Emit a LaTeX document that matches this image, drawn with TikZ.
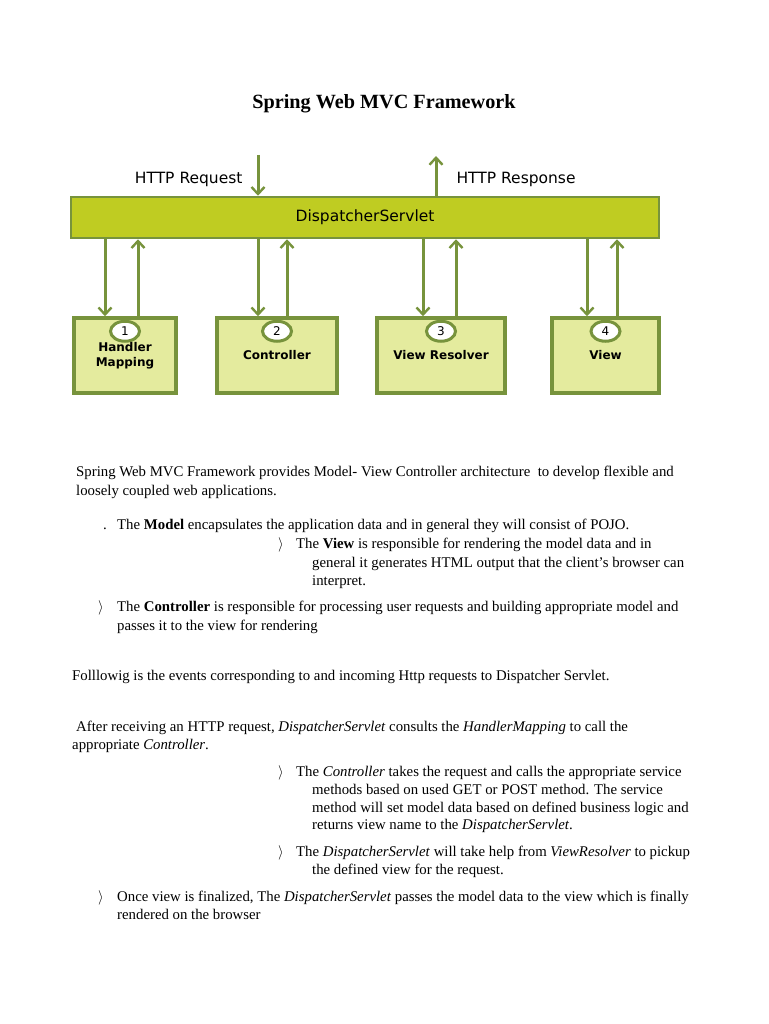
\documentclass[tikz,border=0pt]{standalone}
\usepackage{fontspec}
\setmainfont{Liberation Serif}
\newfontfamily\mvcsans{DejaVu Sans}
\usetikzlibrary{arrows.meta,shapes.geometric,positioning}
\definecolor{mvcBar}{HTML}{BFCC22}
\definecolor{mvcBox}{HTML}{E4EB9E}
\definecolor{mvcLine}{HTML}{77933C}
\begin{document}
\begin{tikzpicture}[
  x=1pt, y=-1pt,
  mvcbar/.style = {draw=mvcLine, line width=2.5pt, fill=mvcBar, minimum width=588pt,
    minimum height=41pt, font=\mvcsans\fontsize{15.5}{17}\selectfont},
  mvcbox/.style = {draw=mvcLine, line width=3.5pt, fill=mvcBox, minimum height=75pt},
  mvcnum/.style = {ellipse, draw=mvcLine, line width=3pt, fill=white, inner sep=0pt,
    minimum width=29pt, minimum height=20pt, font=\mvcsans\fontsize{12}{13}\selectfont},
  mvclbl/.style = {font=\mvcsans\bfseries\fontsize{12}{15}\selectfont, align=center},
  mvchttp/.style = {font=\mvcsans\fontsize{15.5}{17}\selectfont},
  mvcarrow/.style = {line width=3pt, mvcLine, -{Straight Barb[length=7pt,width=13pt,line width=2.4pt]}},
  mvctxt/.style = {anchor=base west, inner sep=0pt, font=\fontsize{14.8}{17}\selectfont},
  mvctitle/.style = {anchor=base, inner sep=0pt, font=\bfseries\fontsize{20.2}{23}\selectfont}
]
  \useasboundingbox (0,0) rectangle (768,1024);
  % title
  \node[mvctitle] (title) at (384,109) {Spring Web MVC Framework};
  % front controller
  \node[mvcbar] (disp) at (365,217.5) {DispatcherServlet};
  \coordinate (reqin) at (258,155);
  \coordinate (resout) at (436,156);
  \draw[mvcarrow] (reqin) -- (reqin |- disp.north);
  \draw[mvcarrow] (resout |- disp.north) -- (resout);
  \node[mvchttp, anchor=east] (req) at (246,179) {HTTP Request};
  \node[mvchttp, anchor=west] (res) at (453,179) {HTTP Response};
  % components
  \node[mvcbox, minimum width=102pt] (hm)   at (125,355.5) {};
  \node[mvcbox, minimum width=120pt] (ctrl) at (277,355.5) {};
  \node[mvcbox, minimum width=128pt] (vr)   at (441,355.5) {};
  \node[mvcbox, minimum width=107pt] (view) at (605.5,355.5) {};
  \foreach \b/\n/\lbl/\dn/\up in {hm/1/{Handler\\Mapping}/-20/13,
                                  ctrl/2/Controller/-19/10,
                                  vr/3/View Resolver/-18/15,
                                  view/4/View/-18.5/11.5} {
    \draw[mvcarrow] ([xshift=\dn pt]\b.north |- disp.south) -- ([xshift=\dn pt]\b.north);
    \draw[mvcarrow] ([xshift=\up pt]\b.north) -- ([xshift=\up pt]\b.north |- disp.south);
    \node[mvcnum] (\b-num) at ([yshift=-15pt]\b.north) {\n};
    \node[mvclbl] (\b-lbl) at ([yshift=-39pt]\b.north) {\lbl};
  }
  % text
  \node[mvctxt] (p1a) at (76,476) {Spring Web MVC Framework provides Model- View Controller architecture\ \ to develop flexible and};
  \node[mvctxt] (p1b) at (76,495) {loosely coupled web applications.};
  \node[mvctxt] (m0) at (103,529) {.};
  \node[mvctxt] (m1) at (117,529) {The \textbf{Model} encapsulates the application data and in general they will consist of POJO.};
  \node[mvctxt] (v0) at (278,548) {$\rangle$};
  \node[mvctxt] (v1) at (296,548) {The \textbf{View} is responsible for rendering the model data and in};
  \node[mvctxt] (v2) at (312,567) {general it generates HTML output that the client's browser can};
  \node[mvctxt] (v3) at (312,585) {interpret.};
  \node[mvctxt] (c0) at (98,611) {$\rangle$};
  \node[mvctxt] (c1) at (117,611) {The \textbf{Controller} is responsible for processing user requests and building appropriate model and};
  \node[mvctxt] (c2) at (117,630) {passes it to the view for rendering};
  \node[mvctxt] (f1) at (72,680) {Folllowig is the events corresponding to and incoming Http requests to Dispatcher Servlet.};
  \node[mvctxt] (a1) at (76,731) {After receiving an HTTP request, \textit{DispatcherServlet} consults the \textit{HandlerMapping} to call the};
  \node[mvctxt] (a2) at (72,749) {appropriate \textit{Controller}.};
  \node[mvctxt] (s0) at (278,776) {$\rangle$};
  \node[mvctxt] (s1) at (296,776) {The \textit{Controller} takes the request and calls the appropriate service};
  \node[mvctxt] (s2) at (312,794) {methods based on used GET or POST method. The service};
  \node[mvctxt] (s3) at (312,812) {method will set model data based on defined business logic and};
  \node[mvctxt] (s4) at (312,829) {returns view name to the \textit{DispatcherServlet}.};
  \node[mvctxt] (r0) at (278,856) {$\rangle$};
  \node[mvctxt] (r1) at (296,856) {The \textit{DispatcherServlet} will take help from \textit{ViewResolver} to pickup};
  \node[mvctxt] (r2) at (312,874) {the defined view for the request.};
  \node[mvctxt] (o0) at (98,901) {$\rangle$};
  \node[mvctxt] (o1) at (117,901) {Once view is finalized, The \textit{DispatcherServlet} passes the model data to the view which is finally};
  \node[mvctxt] (o2) at (117,919) {rendered on the browser};
\end{tikzpicture}
\end{document}
